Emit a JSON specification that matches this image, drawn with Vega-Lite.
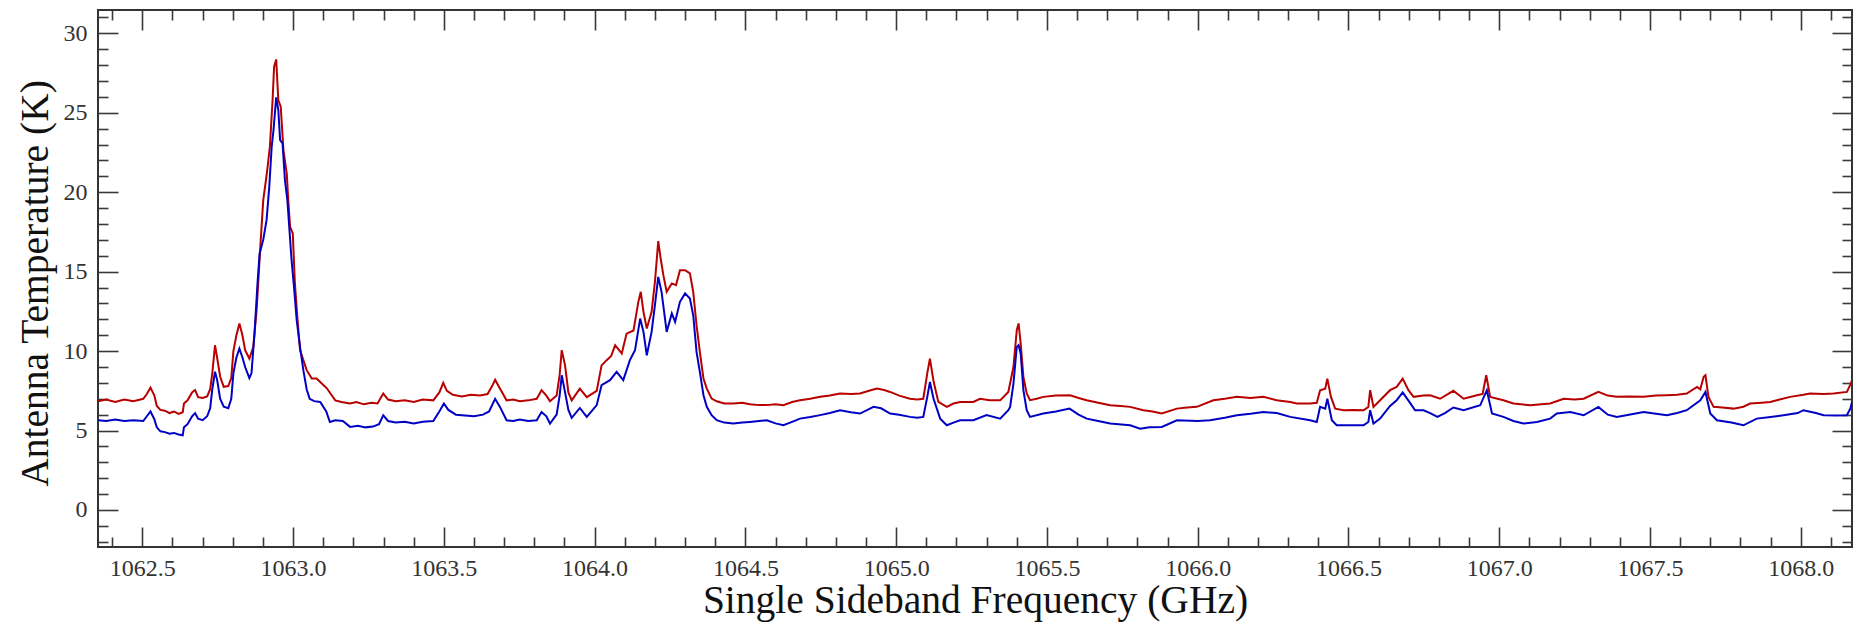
{
  "$schema": "https://vega.github.io/schema/vega-lite/v6.json",
  "width": 1754,
  "height": 537,
  "autosize": {"type": "none"},
  "padding": {"left": 98, "top": 10, "right": 11, "bottom": 79},
  "config": {
    "view": {"stroke": "#333", "strokeWidth": 2},
    "font": "Liberation Serif",
    "axis": {
      "domain": false, "grid": false,
      "labelFont": "Liberation Serif", "titleFont": "Liberation Serif",
      "labelColor": "#333", "titleColor": "#111", "titleFontWeight": "normal",
      "labelFontSize": 24, "titleFontSize": 39.5
    }
  },
  "data": {"values": [
      {"s":"Spectrum 1","f":1062.353,"T":6.85},{"s":"Spectrum 1","f":1062.380,"T":6.95},{"s":"Spectrum 1","f":1062.410,"T":6.80},{"s":"Spectrum 1","f":1062.440,"T":6.95},{"s":"Spectrum 1","f":1062.470,"T":6.85},{"s":"Spectrum 1","f":1062.503,"T":7.0},{"s":"Spectrum 1","f":1062.515,"T":7.3},{"s":"Spectrum 1","f":1062.527,"T":7.7},{"s":"Spectrum 1","f":1062.540,"T":7.2},{"s":"Spectrum 1","f":1062.548,"T":6.55},{"s":"Spectrum 1","f":1062.560,"T":6.30},{"s":"Spectrum 1","f":1062.575,"T":6.25},{"s":"Spectrum 1","f":1062.590,"T":6.10},{"s":"Spectrum 1","f":1062.605,"T":6.20},{"s":"Spectrum 1","f":1062.620,"T":6.05},{"s":"Spectrum 1","f":1062.634,"T":6.15},{"s":"Spectrum 1","f":1062.638,"T":6.70},{"s":"Spectrum 1","f":1062.650,"T":6.90},{"s":"Spectrum 1","f":1062.665,"T":7.40},{"s":"Spectrum 1","f":1062.675,"T":7.55},{"s":"Spectrum 1","f":1062.685,"T":7.10},{"s":"Spectrum 1","f":1062.700,"T":7.05},{"s":"Spectrum 1","f":1062.715,"T":7.15},{"s":"Spectrum 1","f":1062.725,"T":7.60},{"s":"Spectrum 1","f":1062.732,"T":8.60},{"s":"Spectrum 1","f":1062.741,"T":10.37},{"s":"Spectrum 1","f":1062.748,"T":9.6},{"s":"Spectrum 1","f":1062.758,"T":8.4},{"s":"Spectrum 1","f":1062.770,"T":7.75},{"s":"Spectrum 1","f":1062.785,"T":7.8},{"s":"Spectrum 1","f":1062.795,"T":8.3},{"s":"Spectrum 1","f":1062.802,"T":10.0},{"s":"Spectrum 1","f":1062.812,"T":11.0},{"s":"Spectrum 1","f":1062.822,"T":11.74},{"s":"Spectrum 1","f":1062.832,"T":11.0},{"s":"Spectrum 1","f":1062.841,"T":10.06},{"s":"Spectrum 1","f":1062.855,"T":9.53},{"s":"Spectrum 1","f":1062.868,"T":10.26},{"s":"Spectrum 1","f":1062.879,"T":12.58},{"s":"Spectrum 1","f":1062.890,"T":16.15},{"s":"Spectrum 1","f":1062.901,"T":19.5},{"s":"Spectrum 1","f":1062.913,"T":21.18},{"s":"Spectrum 1","f":1062.923,"T":22.86},{"s":"Spectrum 1","f":1062.932,"T":25.8},{"s":"Spectrum 1","f":1062.937,"T":27.9},{"s":"Spectrum 1","f":1062.944,"T":28.36},{"s":"Spectrum 1","f":1062.951,"T":25.8},{"s":"Spectrum 1","f":1062.959,"T":25.38},{"s":"Spectrum 1","f":1062.968,"T":22.65},{"s":"Spectrum 1","f":1062.979,"T":21.18},{"s":"Spectrum 1","f":1062.984,"T":19.5},{"s":"Spectrum 1","f":1062.990,"T":17.82},{"s":"Spectrum 1","f":1062.999,"T":17.4},{"s":"Spectrum 1","f":1063.006,"T":14.26},{"s":"Spectrum 1","f":1063.014,"T":12.15},{"s":"Spectrum 1","f":1063.023,"T":10.06},{"s":"Spectrum 1","f":1063.034,"T":9.43},{"s":"Spectrum 1","f":1063.045,"T":8.8},{"s":"Spectrum 1","f":1063.062,"T":8.27},{"s":"Spectrum 1","f":1063.078,"T":8.27},{"s":"Spectrum 1","f":1063.095,"T":7.96},{"s":"Spectrum 1","f":1063.112,"T":7.66},{"s":"Spectrum 1","f":1063.125,"T":7.3},{"s":"Spectrum 1","f":1063.140,"T":6.9},{"s":"Spectrum 1","f":1063.160,"T":6.8},{"s":"Spectrum 1","f":1063.189,"T":6.7},{"s":"Spectrum 1","f":1063.210,"T":6.8},{"s":"Spectrum 1","f":1063.235,"T":6.65},{"s":"Spectrum 1","f":1063.260,"T":6.75},{"s":"Spectrum 1","f":1063.280,"T":6.7},{"s":"Spectrum 1","f":1063.299,"T":7.33},{"s":"Spectrum 1","f":1063.315,"T":6.95},{"s":"Spectrum 1","f":1063.340,"T":6.85},{"s":"Spectrum 1","f":1063.370,"T":6.9},{"s":"Spectrum 1","f":1063.400,"T":6.8},{"s":"Spectrum 1","f":1063.430,"T":6.95},{"s":"Spectrum 1","f":1063.465,"T":6.9},{"s":"Spectrum 1","f":1063.485,"T":7.4},{"s":"Spectrum 1","f":1063.498,"T":8.0},{"s":"Spectrum 1","f":1063.510,"T":7.5},{"s":"Spectrum 1","f":1063.530,"T":7.25},{"s":"Spectrum 1","f":1063.560,"T":7.15},{"s":"Spectrum 1","f":1063.590,"T":7.25},{"s":"Spectrum 1","f":1063.620,"T":7.2},{"s":"Spectrum 1","f":1063.645,"T":7.3},{"s":"Spectrum 1","f":1063.660,"T":7.8},{"s":"Spectrum 1","f":1063.670,"T":8.2},{"s":"Spectrum 1","f":1063.686,"T":7.64},{"s":"Spectrum 1","f":1063.708,"T":6.9},{"s":"Spectrum 1","f":1063.730,"T":6.95},{"s":"Spectrum 1","f":1063.752,"T":6.85},{"s":"Spectrum 1","f":1063.780,"T":6.9},{"s":"Spectrum 1","f":1063.808,"T":7.0},{"s":"Spectrum 1","f":1063.824,"T":7.54},{"s":"Spectrum 1","f":1063.840,"T":7.2},{"s":"Spectrum 1","f":1063.852,"T":6.84},{"s":"Spectrum 1","f":1063.874,"T":7.2},{"s":"Spectrum 1","f":1063.884,"T":8.5},{"s":"Spectrum 1","f":1063.891,"T":10.06},{"s":"Spectrum 1","f":1063.902,"T":9.1},{"s":"Spectrum 1","f":1063.913,"T":7.4},{"s":"Spectrum 1","f":1063.924,"T":6.9},{"s":"Spectrum 1","f":1063.951,"T":7.64},{"s":"Spectrum 1","f":1063.974,"T":7.1},{"s":"Spectrum 1","f":1064.007,"T":7.5},{"s":"Spectrum 1","f":1064.023,"T":9.1},{"s":"Spectrum 1","f":1064.040,"T":9.43},{"s":"Spectrum 1","f":1064.055,"T":9.7},{"s":"Spectrum 1","f":1064.068,"T":10.37},{"s":"Spectrum 1","f":1064.090,"T":9.85},{"s":"Spectrum 1","f":1064.106,"T":11.1},{"s":"Spectrum 1","f":1064.129,"T":11.3},{"s":"Spectrum 1","f":1064.145,"T":13.1},{"s":"Spectrum 1","f":1064.153,"T":13.73},{"s":"Spectrum 1","f":1064.162,"T":12.47},{"s":"Spectrum 1","f":1064.173,"T":11.42},{"s":"Spectrum 1","f":1064.189,"T":12.47},{"s":"Spectrum 1","f":1064.200,"T":14.36},{"s":"Spectrum 1","f":1064.211,"T":16.92},{"s":"Spectrum 1","f":1064.219,"T":15.83},{"s":"Spectrum 1","f":1064.228,"T":14.78},{"s":"Spectrum 1","f":1064.239,"T":13.73},{"s":"Spectrum 1","f":1064.256,"T":14.26},{"s":"Spectrum 1","f":1064.270,"T":14.15},{"s":"Spectrum 1","f":1064.283,"T":15.09},{"s":"Spectrum 1","f":1064.300,"T":15.09},{"s":"Spectrum 1","f":1064.316,"T":14.89},{"s":"Spectrum 1","f":1064.327,"T":13.73},{"s":"Spectrum 1","f":1064.338,"T":11.63},{"s":"Spectrum 1","f":1064.349,"T":9.95},{"s":"Spectrum 1","f":1064.361,"T":8.27},{"s":"Spectrum 1","f":1064.372,"T":7.64},{"s":"Spectrum 1","f":1064.388,"T":7.01},{"s":"Spectrum 1","f":1064.405,"T":6.84},{"s":"Spectrum 1","f":1064.430,"T":6.7},{"s":"Spectrum 1","f":1064.460,"T":6.7},{"s":"Spectrum 1","f":1064.490,"T":6.75},{"s":"Spectrum 1","f":1064.515,"T":6.65},{"s":"Spectrum 1","f":1064.545,"T":6.6},{"s":"Spectrum 1","f":1064.571,"T":6.6},{"s":"Spectrum 1","f":1064.600,"T":6.65},{"s":"Spectrum 1","f":1064.626,"T":6.6},{"s":"Spectrum 1","f":1064.655,"T":6.8},{"s":"Spectrum 1","f":1064.681,"T":6.9},{"s":"Spectrum 1","f":1064.715,"T":7.0},{"s":"Spectrum 1","f":1064.748,"T":7.12},{"s":"Spectrum 1","f":1064.780,"T":7.2},{"s":"Spectrum 1","f":1064.814,"T":7.33},{"s":"Spectrum 1","f":1064.850,"T":7.3},{"s":"Spectrum 1","f":1064.880,"T":7.33},{"s":"Spectrum 1","f":1064.910,"T":7.5},{"s":"Spectrum 1","f":1064.936,"T":7.64},{"s":"Spectrum 1","f":1064.960,"T":7.55},{"s":"Spectrum 1","f":1064.980,"T":7.43},{"s":"Spectrum 1","f":1065.010,"T":7.2},{"s":"Spectrum 1","f":1065.046,"T":7.0},{"s":"Spectrum 1","f":1065.070,"T":6.95},{"s":"Spectrum 1","f":1065.090,"T":7.0},{"s":"Spectrum 1","f":1065.104,"T":8.69},{"s":"Spectrum 1","f":1065.112,"T":9.53},{"s":"Spectrum 1","f":1065.124,"T":8.1},{"s":"Spectrum 1","f":1065.140,"T":6.8},{"s":"Spectrum 1","f":1065.168,"T":6.49},{"s":"Spectrum 1","f":1065.190,"T":6.7},{"s":"Spectrum 1","f":1065.212,"T":6.8},{"s":"Spectrum 1","f":1065.256,"T":6.8},{"s":"Spectrum 1","f":1065.278,"T":7.0},{"s":"Spectrum 1","f":1065.310,"T":6.9},{"s":"Spectrum 1","f":1065.345,"T":6.9},{"s":"Spectrum 1","f":1065.372,"T":7.43},{"s":"Spectrum 1","f":1065.389,"T":9.0},{"s":"Spectrum 1","f":1065.400,"T":11.32},{"s":"Spectrum 1","f":1065.406,"T":11.74},{"s":"Spectrum 1","f":1065.413,"T":10.48},{"s":"Spectrum 1","f":1065.422,"T":8.38},{"s":"Spectrum 1","f":1065.433,"T":7.33},{"s":"Spectrum 1","f":1065.444,"T":6.91},{"s":"Spectrum 1","f":1065.466,"T":7.0},{"s":"Spectrum 1","f":1065.488,"T":7.12},{"s":"Spectrum 1","f":1065.530,"T":7.2},{"s":"Spectrum 1","f":1065.577,"T":7.22},{"s":"Spectrum 1","f":1065.605,"T":7.05},{"s":"Spectrum 1","f":1065.632,"T":6.91},{"s":"Spectrum 1","f":1065.670,"T":6.75},{"s":"Spectrum 1","f":1065.710,"T":6.59},{"s":"Spectrum 1","f":1065.745,"T":6.55},{"s":"Spectrum 1","f":1065.776,"T":6.49},{"s":"Spectrum 1","f":1065.820,"T":6.28},{"s":"Spectrum 1","f":1065.850,"T":6.2},{"s":"Spectrum 1","f":1065.881,"T":6.07},{"s":"Spectrum 1","f":1065.931,"T":6.38},{"s":"Spectrum 1","f":1065.965,"T":6.45},{"s":"Spectrum 1","f":1065.997,"T":6.49},{"s":"Spectrum 1","f":1066.052,"T":6.91},{"s":"Spectrum 1","f":1066.090,"T":7.0},{"s":"Spectrum 1","f":1066.130,"T":7.12},{"s":"Spectrum 1","f":1066.175,"T":7.05},{"s":"Spectrum 1","f":1066.218,"T":7.12},{"s":"Spectrum 1","f":1066.262,"T":6.91},{"s":"Spectrum 1","f":1066.307,"T":6.8},{"s":"Spectrum 1","f":1066.329,"T":6.70},{"s":"Spectrum 1","f":1066.373,"T":6.70},{"s":"Spectrum 1","f":1066.395,"T":6.75},{"s":"Spectrum 1","f":1066.406,"T":7.54},{"s":"Spectrum 1","f":1066.423,"T":7.64},{"s":"Spectrum 1","f":1066.430,"T":8.27},{"s":"Spectrum 1","f":1066.442,"T":7.12},{"s":"Spectrum 1","f":1066.456,"T":6.38},{"s":"Spectrum 1","f":1066.484,"T":6.28},{"s":"Spectrum 1","f":1066.517,"T":6.3},{"s":"Spectrum 1","f":1066.550,"T":6.28},{"s":"Spectrum 1","f":1066.566,"T":6.49},{"s":"Spectrum 1","f":1066.572,"T":7.54},{"s":"Spectrum 1","f":1066.583,"T":6.49},{"s":"Spectrum 1","f":1066.605,"T":6.91},{"s":"Spectrum 1","f":1066.638,"T":7.54},{"s":"Spectrum 1","f":1066.660,"T":7.75},{"s":"Spectrum 1","f":1066.680,"T":8.27},{"s":"Spectrum 1","f":1066.699,"T":7.54},{"s":"Spectrum 1","f":1066.716,"T":7.12},{"s":"Spectrum 1","f":1066.749,"T":7.2},{"s":"Spectrum 1","f":1066.771,"T":7.22},{"s":"Spectrum 1","f":1066.804,"T":7.0},{"s":"Spectrum 1","f":1066.848,"T":7.5},{"s":"Spectrum 1","f":1066.882,"T":7.0},{"s":"Spectrum 1","f":1066.926,"T":7.22},{"s":"Spectrum 1","f":1066.945,"T":7.3},{"s":"Spectrum 1","f":1066.957,"T":8.48},{"s":"Spectrum 1","f":1066.970,"T":7.12},{"s":"Spectrum 1","f":1067.014,"T":6.91},{"s":"Spectrum 1","f":1067.047,"T":6.7},{"s":"Spectrum 1","f":1067.103,"T":6.59},{"s":"Spectrum 1","f":1067.140,"T":6.65},{"s":"Spectrum 1","f":1067.169,"T":6.70},{"s":"Spectrum 1","f":1067.214,"T":7.0},{"s":"Spectrum 1","f":1067.250,"T":6.95},{"s":"Spectrum 1","f":1067.280,"T":7.0},{"s":"Spectrum 1","f":1067.329,"T":7.43},{"s":"Spectrum 1","f":1067.360,"T":7.2},{"s":"Spectrum 1","f":1067.390,"T":7.12},{"s":"Spectrum 1","f":1067.430,"T":7.15},{"s":"Spectrum 1","f":1067.479,"T":7.12},{"s":"Spectrum 1","f":1067.520,"T":7.2},{"s":"Spectrum 1","f":1067.556,"T":7.22},{"s":"Spectrum 1","f":1067.590,"T":7.25},{"s":"Spectrum 1","f":1067.622,"T":7.33},{"s":"Spectrum 1","f":1067.656,"T":7.75},{"s":"Spectrum 1","f":1067.667,"T":7.6},{"s":"Spectrum 1","f":1067.678,"T":8.38},{"s":"Spectrum 1","f":1067.684,"T":8.48},{"s":"Spectrum 1","f":1067.694,"T":7.12},{"s":"Spectrum 1","f":1067.711,"T":6.49},{"s":"Spectrum 1","f":1067.740,"T":6.45},{"s":"Spectrum 1","f":1067.777,"T":6.38},{"s":"Spectrum 1","f":1067.810,"T":6.5},{"s":"Spectrum 1","f":1067.832,"T":6.70},{"s":"Spectrum 1","f":1067.870,"T":6.75},{"s":"Spectrum 1","f":1067.899,"T":6.80},{"s":"Spectrum 1","f":1067.930,"T":6.95},{"s":"Spectrum 1","f":1067.965,"T":7.12},{"s":"Spectrum 1","f":1068.009,"T":7.25},{"s":"Spectrum 1","f":1068.031,"T":7.33},{"s":"Spectrum 1","f":1068.076,"T":7.3},{"s":"Spectrum 1","f":1068.109,"T":7.33},{"s":"Spectrum 1","f":1068.153,"T":7.43},{"s":"Spectrum 1","f":1068.165,"T":7.9},{"s":"Spectrum 1","f":1068.170,"T":8.17},
      {"s":"Spectrum 2","f":1062.353,"T":5.65},{"s":"Spectrum 2","f":1062.380,"T":5.6},{"s":"Spectrum 2","f":1062.410,"T":5.7},{"s":"Spectrum 2","f":1062.440,"T":5.6},{"s":"Spectrum 2","f":1062.470,"T":5.65},{"s":"Spectrum 2","f":1062.503,"T":5.6},{"s":"Spectrum 2","f":1062.515,"T":5.9},{"s":"Spectrum 2","f":1062.527,"T":6.2},{"s":"Spectrum 2","f":1062.540,"T":5.7},{"s":"Spectrum 2","f":1062.548,"T":5.2},{"s":"Spectrum 2","f":1062.560,"T":4.95},{"s":"Spectrum 2","f":1062.575,"T":4.9},{"s":"Spectrum 2","f":1062.590,"T":4.8},{"s":"Spectrum 2","f":1062.605,"T":4.85},{"s":"Spectrum 2","f":1062.620,"T":4.75},{"s":"Spectrum 2","f":1062.634,"T":4.7},{"s":"Spectrum 2","f":1062.638,"T":5.2},{"s":"Spectrum 2","f":1062.650,"T":5.4},{"s":"Spectrum 2","f":1062.665,"T":5.9},{"s":"Spectrum 2","f":1062.675,"T":6.1},{"s":"Spectrum 2","f":1062.685,"T":5.75},{"s":"Spectrum 2","f":1062.700,"T":5.65},{"s":"Spectrum 2","f":1062.715,"T":5.9},{"s":"Spectrum 2","f":1062.725,"T":6.4},{"s":"Spectrum 2","f":1062.732,"T":7.6},{"s":"Spectrum 2","f":1062.741,"T":8.7},{"s":"Spectrum 2","f":1062.748,"T":8.2},{"s":"Spectrum 2","f":1062.758,"T":7.0},{"s":"Spectrum 2","f":1062.770,"T":6.5},{"s":"Spectrum 2","f":1062.785,"T":6.4},{"s":"Spectrum 2","f":1062.795,"T":7.0},{"s":"Spectrum 2","f":1062.802,"T":8.6},{"s":"Spectrum 2","f":1062.812,"T":9.6},{"s":"Spectrum 2","f":1062.822,"T":10.16},{"s":"Spectrum 2","f":1062.832,"T":9.6},{"s":"Spectrum 2","f":1062.841,"T":9.0},{"s":"Spectrum 2","f":1062.855,"T":8.3},{"s":"Spectrum 2","f":1062.862,"T":8.6},{"s":"Spectrum 2","f":1062.872,"T":11.1},{"s":"Spectrum 2","f":1062.882,"T":14.26},{"s":"Spectrum 2","f":1062.889,"T":16.15},{"s":"Spectrum 2","f":1062.901,"T":17.0},{"s":"Spectrum 2","f":1062.912,"T":18.24},{"s":"Spectrum 2","f":1062.921,"T":20.34},{"s":"Spectrum 2","f":1062.929,"T":22.86},{"s":"Spectrum 2","f":1062.935,"T":23.9},{"s":"Spectrum 2","f":1062.944,"T":25.97},{"s":"Spectrum 2","f":1062.951,"T":25.17},{"s":"Spectrum 2","f":1062.957,"T":23.28},{"s":"Spectrum 2","f":1062.965,"T":23.07},{"s":"Spectrum 2","f":1062.973,"T":20.76},{"s":"Spectrum 2","f":1062.981,"T":19.5},{"s":"Spectrum 2","f":1062.988,"T":17.61},{"s":"Spectrum 2","f":1062.995,"T":15.72},{"s":"Spectrum 2","f":1063.003,"T":14.04},{"s":"Spectrum 2","f":1063.012,"T":11.95},{"s":"Spectrum 2","f":1063.023,"T":10.26},{"s":"Spectrum 2","f":1063.034,"T":8.8},{"s":"Spectrum 2","f":1063.045,"T":7.6},{"s":"Spectrum 2","f":1063.055,"T":7.0},{"s":"Spectrum 2","f":1063.070,"T":6.85},{"s":"Spectrum 2","f":1063.090,"T":6.8},{"s":"Spectrum 2","f":1063.110,"T":6.2},{"s":"Spectrum 2","f":1063.122,"T":5.54},{"s":"Spectrum 2","f":1063.140,"T":5.65},{"s":"Spectrum 2","f":1063.165,"T":5.6},{"s":"Spectrum 2","f":1063.189,"T":5.23},{"s":"Spectrum 2","f":1063.215,"T":5.3},{"s":"Spectrum 2","f":1063.240,"T":5.2},{"s":"Spectrum 2","f":1063.265,"T":5.25},{"s":"Spectrum 2","f":1063.285,"T":5.4},{"s":"Spectrum 2","f":1063.299,"T":5.96},{"s":"Spectrum 2","f":1063.315,"T":5.6},{"s":"Spectrum 2","f":1063.340,"T":5.5},{"s":"Spectrum 2","f":1063.370,"T":5.55},{"s":"Spectrum 2","f":1063.400,"T":5.45},{"s":"Spectrum 2","f":1063.430,"T":5.55},{"s":"Spectrum 2","f":1063.465,"T":5.6},{"s":"Spectrum 2","f":1063.485,"T":6.2},{"s":"Spectrum 2","f":1063.500,"T":6.7},{"s":"Spectrum 2","f":1063.515,"T":6.3},{"s":"Spectrum 2","f":1063.540,"T":6.0},{"s":"Spectrum 2","f":1063.570,"T":5.95},{"s":"Spectrum 2","f":1063.600,"T":5.9},{"s":"Spectrum 2","f":1063.630,"T":6.0},{"s":"Spectrum 2","f":1063.650,"T":6.2},{"s":"Spectrum 2","f":1063.670,"T":7.0},{"s":"Spectrum 2","f":1063.686,"T":6.49},{"s":"Spectrum 2","f":1063.708,"T":5.65},{"s":"Spectrum 2","f":1063.730,"T":5.6},{"s":"Spectrum 2","f":1063.752,"T":5.7},{"s":"Spectrum 2","f":1063.780,"T":5.6},{"s":"Spectrum 2","f":1063.808,"T":5.65},{"s":"Spectrum 2","f":1063.824,"T":6.17},{"s":"Spectrum 2","f":1063.840,"T":5.9},{"s":"Spectrum 2","f":1063.852,"T":5.44},{"s":"Spectrum 2","f":1063.874,"T":6.0},{"s":"Spectrum 2","f":1063.884,"T":7.2},{"s":"Spectrum 2","f":1063.891,"T":8.48},{"s":"Spectrum 2","f":1063.902,"T":7.4},{"s":"Spectrum 2","f":1063.913,"T":6.3},{"s":"Spectrum 2","f":1063.924,"T":5.8},{"s":"Spectrum 2","f":1063.951,"T":6.42},{"s":"Spectrum 2","f":1063.974,"T":5.86},{"s":"Spectrum 2","f":1064.007,"T":6.6},{"s":"Spectrum 2","f":1064.023,"T":7.85},{"s":"Spectrum 2","f":1064.051,"T":8.17},{"s":"Spectrum 2","f":1064.073,"T":8.69},{"s":"Spectrum 2","f":1064.095,"T":8.17},{"s":"Spectrum 2","f":1064.117,"T":9.43},{"s":"Spectrum 2","f":1064.134,"T":10.06},{"s":"Spectrum 2","f":1064.151,"T":12.05},{"s":"Spectrum 2","f":1064.162,"T":11.21},{"s":"Spectrum 2","f":1064.173,"T":9.74},{"s":"Spectrum 2","f":1064.189,"T":11.21},{"s":"Spectrum 2","f":1064.200,"T":12.89},{"s":"Spectrum 2","f":1064.211,"T":14.67},{"s":"Spectrum 2","f":1064.222,"T":13.73},{"s":"Spectrum 2","f":1064.239,"T":11.21},{"s":"Spectrum 2","f":1064.256,"T":12.37},{"s":"Spectrum 2","f":1064.267,"T":11.84},{"s":"Spectrum 2","f":1064.283,"T":13.1},{"s":"Spectrum 2","f":1064.300,"T":13.63},{"s":"Spectrum 2","f":1064.316,"T":13.31},{"s":"Spectrum 2","f":1064.327,"T":12.26},{"s":"Spectrum 2","f":1064.338,"T":9.95},{"s":"Spectrum 2","f":1064.349,"T":8.69},{"s":"Spectrum 2","f":1064.361,"T":7.22},{"s":"Spectrum 2","f":1064.372,"T":6.49},{"s":"Spectrum 2","f":1064.388,"T":5.97},{"s":"Spectrum 2","f":1064.405,"T":5.65},{"s":"Spectrum 2","f":1064.430,"T":5.5},{"s":"Spectrum 2","f":1064.460,"T":5.44},{"s":"Spectrum 2","f":1064.490,"T":5.5},{"s":"Spectrum 2","f":1064.515,"T":5.54},{"s":"Spectrum 2","f":1064.545,"T":5.6},{"s":"Spectrum 2","f":1064.571,"T":5.65},{"s":"Spectrum 2","f":1064.600,"T":5.45},{"s":"Spectrum 2","f":1064.626,"T":5.33},{"s":"Spectrum 2","f":1064.655,"T":5.55},{"s":"Spectrum 2","f":1064.681,"T":5.75},{"s":"Spectrum 2","f":1064.715,"T":5.85},{"s":"Spectrum 2","f":1064.748,"T":5.97},{"s":"Spectrum 2","f":1064.780,"T":6.1},{"s":"Spectrum 2","f":1064.814,"T":6.28},{"s":"Spectrum 2","f":1064.850,"T":6.15},{"s":"Spectrum 2","f":1064.880,"T":6.07},{"s":"Spectrum 2","f":1064.905,"T":6.3},{"s":"Spectrum 2","f":1064.925,"T":6.49},{"s":"Spectrum 2","f":1064.950,"T":6.4},{"s":"Spectrum 2","f":1064.980,"T":6.07},{"s":"Spectrum 2","f":1065.010,"T":6.0},{"s":"Spectrum 2","f":1065.046,"T":5.86},{"s":"Spectrum 2","f":1065.070,"T":5.8},{"s":"Spectrum 2","f":1065.090,"T":5.86},{"s":"Spectrum 2","f":1065.104,"T":7.2},{"s":"Spectrum 2","f":1065.112,"T":8.06},{"s":"Spectrum 2","f":1065.124,"T":7.0},{"s":"Spectrum 2","f":1065.146,"T":5.75},{"s":"Spectrum 2","f":1065.168,"T":5.33},{"s":"Spectrum 2","f":1065.190,"T":5.5},{"s":"Spectrum 2","f":1065.212,"T":5.65},{"s":"Spectrum 2","f":1065.256,"T":5.65},{"s":"Spectrum 2","f":1065.300,"T":5.97},{"s":"Spectrum 2","f":1065.345,"T":5.75},{"s":"Spectrum 2","f":1065.372,"T":6.28},{"s":"Spectrum 2","f":1065.378,"T":6.49},{"s":"Spectrum 2","f":1065.389,"T":7.96},{"s":"Spectrum 2","f":1065.400,"T":10.26},{"s":"Spectrum 2","f":1065.406,"T":10.37},{"s":"Spectrum 2","f":1065.413,"T":9.85},{"s":"Spectrum 2","f":1065.422,"T":7.54},{"s":"Spectrum 2","f":1065.433,"T":6.28},{"s":"Spectrum 2","f":1065.444,"T":5.86},{"s":"Spectrum 2","f":1065.488,"T":6.07},{"s":"Spectrum 2","f":1065.530,"T":6.2},{"s":"Spectrum 2","f":1065.575,"T":6.38},{"s":"Spectrum 2","f":1065.605,"T":6.0},{"s":"Spectrum 2","f":1065.632,"T":5.75},{"s":"Spectrum 2","f":1065.670,"T":5.6},{"s":"Spectrum 2","f":1065.710,"T":5.44},{"s":"Spectrum 2","f":1065.776,"T":5.33},{"s":"Spectrum 2","f":1065.809,"T":5.12},{"s":"Spectrum 2","f":1065.840,"T":5.2},{"s":"Spectrum 2","f":1065.881,"T":5.23},{"s":"Spectrum 2","f":1065.931,"T":5.65},{"s":"Spectrum 2","f":1066.000,"T":5.6},{"s":"Spectrum 2","f":1066.041,"T":5.65},{"s":"Spectrum 2","f":1066.090,"T":5.8},{"s":"Spectrum 2","f":1066.130,"T":5.96},{"s":"Spectrum 2","f":1066.175,"T":6.05},{"s":"Spectrum 2","f":1066.218,"T":6.17},{"s":"Spectrum 2","f":1066.262,"T":6.1},{"s":"Spectrum 2","f":1066.307,"T":5.86},{"s":"Spectrum 2","f":1066.373,"T":5.65},{"s":"Spectrum 2","f":1066.395,"T":5.54},{"s":"Spectrum 2","f":1066.406,"T":6.49},{"s":"Spectrum 2","f":1066.423,"T":6.38},{"s":"Spectrum 2","f":1066.430,"T":7.01},{"s":"Spectrum 2","f":1066.445,"T":5.65},{"s":"Spectrum 2","f":1066.461,"T":5.33},{"s":"Spectrum 2","f":1066.500,"T":5.33},{"s":"Spectrum 2","f":1066.550,"T":5.33},{"s":"Spectrum 2","f":1066.566,"T":5.54},{"s":"Spectrum 2","f":1066.572,"T":6.28},{"s":"Spectrum 2","f":1066.583,"T":5.44},{"s":"Spectrum 2","f":1066.605,"T":5.75},{"s":"Spectrum 2","f":1066.638,"T":6.55},{"s":"Spectrum 2","f":1066.660,"T":6.91},{"s":"Spectrum 2","f":1066.680,"T":7.4},{"s":"Spectrum 2","f":1066.702,"T":6.8},{"s":"Spectrum 2","f":1066.721,"T":6.28},{"s":"Spectrum 2","f":1066.749,"T":6.28},{"s":"Spectrum 2","f":1066.771,"T":6.1},{"s":"Spectrum 2","f":1066.795,"T":5.86},{"s":"Spectrum 2","f":1066.820,"T":6.1},{"s":"Spectrum 2","f":1066.848,"T":6.45},{"s":"Spectrum 2","f":1066.882,"T":6.28},{"s":"Spectrum 2","f":1066.937,"T":6.59},{"s":"Spectrum 2","f":1066.959,"T":7.54},{"s":"Spectrum 2","f":1066.976,"T":6.07},{"s":"Spectrum 2","f":1067.014,"T":5.86},{"s":"Spectrum 2","f":1067.047,"T":5.6},{"s":"Spectrum 2","f":1067.080,"T":5.44},{"s":"Spectrum 2","f":1067.125,"T":5.54},{"s":"Spectrum 2","f":1067.169,"T":5.75},{"s":"Spectrum 2","f":1067.191,"T":6.07},{"s":"Spectrum 2","f":1067.236,"T":6.17},{"s":"Spectrum 2","f":1067.280,"T":5.96},{"s":"Spectrum 2","f":1067.329,"T":6.49},{"s":"Spectrum 2","f":1067.360,"T":6.0},{"s":"Spectrum 2","f":1067.390,"T":5.86},{"s":"Spectrum 2","f":1067.430,"T":6.0},{"s":"Spectrum 2","f":1067.479,"T":6.17},{"s":"Spectrum 2","f":1067.520,"T":6.05},{"s":"Spectrum 2","f":1067.556,"T":5.96},{"s":"Spectrum 2","f":1067.590,"T":6.1},{"s":"Spectrum 2","f":1067.622,"T":6.28},{"s":"Spectrum 2","f":1067.667,"T":6.91},{"s":"Spectrum 2","f":1067.684,"T":7.43},{"s":"Spectrum 2","f":1067.700,"T":6.07},{"s":"Spectrum 2","f":1067.722,"T":5.65},{"s":"Spectrum 2","f":1067.770,"T":5.5},{"s":"Spectrum 2","f":1067.810,"T":5.33},{"s":"Spectrum 2","f":1067.854,"T":5.75},{"s":"Spectrum 2","f":1067.900,"T":5.85},{"s":"Spectrum 2","f":1067.943,"T":5.96},{"s":"Spectrum 2","f":1067.990,"T":6.1},{"s":"Spectrum 2","f":1068.009,"T":6.28},{"s":"Spectrum 2","f":1068.050,"T":6.1},{"s":"Spectrum 2","f":1068.076,"T":5.96},{"s":"Spectrum 2","f":1068.120,"T":5.95},{"s":"Spectrum 2","f":1068.153,"T":5.96},{"s":"Spectrum 2","f":1068.165,"T":6.4},{"s":"Spectrum 2","f":1068.170,"T":6.8}
  ]},
  "resolve": {"axis": {"x": "independent", "y": "independent"}},
  "layer": [
    {
      "transform": [{"aggregate": [{"op": "min", "field": "f", "as": "f"}, {"op": "min", "field": "T", "as": "T"}]}],
      "mark": {"type": "point", "opacity": 0},
      "encoding": {
        "x": {"field": "f", "type": "quantitative", "scale": {"domain": [1062.353, 1068.17], "nice": false, "zero": false},
          "axis": {"orient": "bottom", "values": [1062.4,1062.5,1062.6,1062.7,1062.8,1062.9,1063,1063.1,1063.2,1063.3,1063.4,1063.5,1063.6,1063.7,1063.8,1063.9,1064,1064.1,1064.2,1064.3,1064.4,1064.5,1064.6,1064.7,1064.8,1064.9,1065,1065.1,1065.2,1065.3,1065.4,1065.5,1065.6,1065.7,1065.8,1065.9,1066,1066.1,1066.2,1066.3,1066.4,1066.5,1066.6,1066.7,1066.8,1066.9,1067,1067.1,1067.2,1067.3,1067.4,1067.5,1067.6,1067.7,1067.8,1067.9,1068,1068.1],
            "tickSize": {"condition": {"test": "abs(datum.value * 2 - round(datum.value * 2)) < 0.001", "value": -20}, "value": -10},
            "tickColor": "#3a3a3a", "tickWidth": 1.6, "labels": false, "title": null}},
        "y": {"field": "T", "type": "quantitative", "scale": {"domain": [-2.33, 31.47], "nice": false, "zero": false},
          "axis": {"orient": "left", "values": [-2,-1,0,1,2,3,4,5,6,7,8,9,10,11,12,13,14,15,16,17,18,19,20,21,22,23,24,25,26,27,28,29,30,31],
            "tickSize": {"condition": {"test": "datum.value % 5 === 0", "value": -20}, "value": -10},
            "tickColor": "#3a3a3a", "tickWidth": 1.6, "labels": false, "title": null}}
      }
    },
    {
      "transform": [{"aggregate": [{"op": "max", "field": "f", "as": "f"}, {"op": "max", "field": "T", "as": "T"}]}],
      "mark": {"type": "point", "opacity": 0},
      "encoding": {
        "x": {"field": "f", "type": "quantitative", "scale": {"domain": [1062.353, 1068.17], "nice": false, "zero": false},
          "axis": {"orient": "top", "values": [1062.4,1062.5,1062.6,1062.7,1062.8,1062.9,1063,1063.1,1063.2,1063.3,1063.4,1063.5,1063.6,1063.7,1063.8,1063.9,1064,1064.1,1064.2,1064.3,1064.4,1064.5,1064.6,1064.7,1064.8,1064.9,1065,1065.1,1065.2,1065.3,1065.4,1065.5,1065.6,1065.7,1065.8,1065.9,1066,1066.1,1066.2,1066.3,1066.4,1066.5,1066.6,1066.7,1066.8,1066.9,1067,1067.1,1067.2,1067.3,1067.4,1067.5,1067.6,1067.7,1067.8,1067.9,1068,1068.1],
            "tickSize": {"condition": {"test": "abs(datum.value * 2 - round(datum.value * 2)) < 0.001", "value": -20}, "value": -10},
            "tickColor": "#3a3a3a", "tickWidth": 1.6, "labels": false, "title": null}},
        "y": {"field": "T", "type": "quantitative", "scale": {"domain": [-2.33, 31.47], "nice": false, "zero": false},
          "axis": {"orient": "right", "values": [-2,-1,0,1,2,3,4,5,6,7,8,9,10,11,12,13,14,15,16,17,18,19,20,21,22,23,24,25,26,27,28,29,30,31],
            "tickSize": {"condition": {"test": "datum.value % 5 === 0", "value": -20}, "value": -10},
            "tickColor": "#3a3a3a", "tickWidth": 1.6, "labels": false, "title": null}}
      }
    },
    {
      "mark": {"type": "line", "strokeWidth": 2, "clip": true},
      "encoding": {
        "x": {"field": "f", "type": "quantitative",
          "scale": {"domain": [1062.353, 1068.17], "nice": false, "zero": false},
          "axis": {"orient": "bottom", "values": [1062.5,1063,1063.5,1064,1064.5,1065,1065.5,1066,1066.5,1067,1067.5,1068],
            "format": ".1f", "ticks": false, "labelBaseline": "alphabetic", "labelPadding": 28,
            "title": "Single Sideband Frequency (GHz)", "titleBaseline": "alphabetic", "titleY": 65}},
        "y": {"field": "T", "type": "quantitative",
          "scale": {"domain": [-2.33, 31.47], "nice": false, "zero": false},
          "axis": {"orient": "left", "values": [0,5,10,15,20,25,30], "ticks": false,
            "labelBaseline": "middle", "labelPadding": 11,
            "title": "Antenna Temperature (K)", "titleBaseline": "alphabetic", "titleX": -51, "titleY": 273}},
        "color": {"field": "s", "type": "nominal",
          "scale": {"domain": ["Spectrum 1", "Spectrum 2"], "range": ["#b80000", "#0000c4"]}, "legend": null}
      }
    }
  ]
}
